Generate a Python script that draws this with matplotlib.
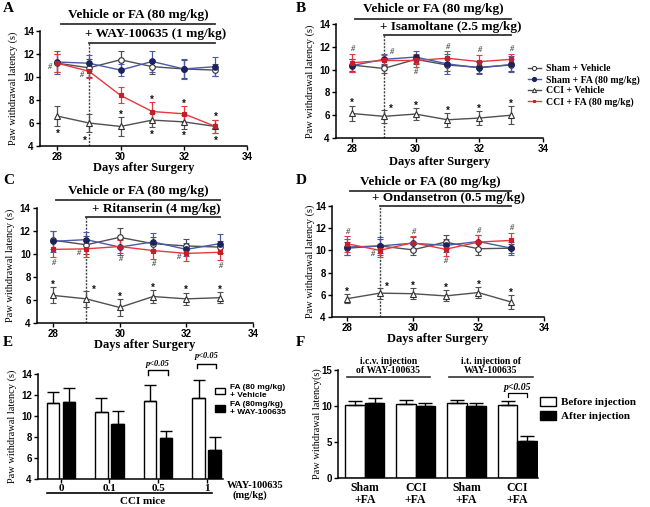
import matplotlib
matplotlib.use('Agg')
import matplotlib.pyplot as plt
from matplotlib.lines import Line2D
from matplotlib.patches import Patch
import numpy as np

SERIF = 'Liberation Serif'
SANS = 'Liberation Sans'
W, H = 650, 507

days = [28, 29, 30, 31, 32, 33]
group_names = ['Sham + Vehicle', 'Sham + FA (80 mg/kg)', 'CCI + Vehicle', 'CCI + FA (80 mg/kg)']

# A: + WAY-100635 (1 mg/kg)
a_vals = [[11.2, 10.8, 11.5, 10.9, 10.7, 10.6],
          [11.3, 11.2, 10.6, 11.35, 10.7, 10.9],
          [6.6, 6.0, 5.7, 6.25, 6.1, 5.7],
          [11.2, 10.5, 8.4, 7.0, 6.8, 5.7]]
a_errs = [[0.8, 0.8, 0.8, 0.6, 0.8, 0.5],
          [1.0, 0.7, 0.5, 0.9, 0.9, 0.8],
          [0.9, 0.8, 0.8, 0.6, 0.6, 0.6],
          [0.8, 0.6, 0.7, 0.8, 0.7, 0.6]]
# B: + Isamoltane (2.5 mg/kg)
b_vals = [[10.4, 10.1, 10.9, 10.4, 10.2, 10.4],
          [10.35, 10.9, 11.1, 10.5, 10.15, 10.45],
          [6.15, 5.9, 6.1, 5.6, 5.75, 6.0],
          [10.6, 10.8, 10.8, 11.0, 10.7, 10.9]]
b_errs = [[0.5, 0.4, 0.4, 0.5, 0.5, 0.5],
          [0.6, 0.5, 0.5, 0.9, 0.5, 0.7],
          [0.7, 0.6, 0.5, 0.6, 0.6, 0.8],
          [0.8, 0.5, 0.6, 0.6, 0.6, 0.5]]
# C: + Ritanserin (4 mg/kg)
c_vals = [[11.2, 10.8, 11.45, 10.9, 10.7, 10.6],
          [11.1, 11.25, 10.6, 11.05, 10.4, 10.9],
          [6.4, 6.1, 5.35, 6.3, 6.1, 6.2],
          [10.4, 10.45, 10.65, 10.3, 10.05, 10.15]]
c_errs = [[0.8, 0.8, 0.8, 0.6, 0.6, 0.5],
          [0.9, 0.7, 0.7, 0.8, 0.6, 0.8],
          [0.7, 0.7, 0.7, 0.55, 0.55, 0.5],
          [0.7, 0.7, 0.6, 0.7, 0.7, 0.7]]
# D: + Ondansetron (0.5 mg/kg)
d_vals = [[10.2, 10.4, 10.05, 10.75, 10.15, 10.2],
          [10.3, 10.4, 10.65, 10.45, 10.8, 10.2],
          [5.65, 6.15, 6.1, 5.9, 6.2, 5.35],
          [10.6, 10.0, 10.7, 10.1, 10.75, 10.9]]
d_errs = [[0.6, 0.6, 0.5, 0.6, 0.6, 0.4],
          [0.7, 0.8, 0.6, 0.6, 0.6, 0.6],
          [0.4, 0.5, 0.5, 0.5, 0.5, 0.6],
          [0.7, 0.6, 0.6, 0.6, 0.6, 0.7]]

# significance marks: (symbol, series, day, where)
a_notes = [('*', 2, 28, 'below'), ('*', 2, 29, 'belowleft'), ('*', 2, 30, 'above'),
           ('*', 2, 31, 'below'), ('*', 2, 32, 'below'), ('*', 2, 33, 'below'),
           ('*', 3, 31, 'above'), ('*', 3, 32, 'above'), ('*', 3, 33, 'above'),
           ('#', 3, 28, 'left'), ('#', 3, 29, 'left')]
b_notes = [('*', 2, d, 'above') for d in [28, 30, 31, 32, 33]] + [('*', 2, 29, 'aboveright')] + \
          [('#', 3, d, 'above') for d in [28, 31, 32, 33]] + [('#', 3, 29, 'aboveright'), ('#', 3, 30, 'below')]
c_notes = [('*', 2, d, 'above') for d in [28, 30, 31, 32, 33]] + [('*', 2, 29, 'aboveright')] + \
          [('#', 3, d, 'below') for d in [28, 30, 31, 33]] + [('#', 3, 29, 'left'), ('#', 3, 32, 'left')]
d_notes = [('*', 2, d, 'above') for d in [28, 30, 31, 32, 33]] + [('*', 2, 29, 'aboveright')] + \
          [('#', 3, d, 'above') for d in [28, 30, 32, 33]] + [('#', 3, 29, 'left'), ('#', 3, 31, 'below')]

# E: dose of WAY-100635 in CCI mice
e_doses = ['0', '0.1', '0.5', '1']
e_vehicle = [11.2, 10.4, 11.4, 11.7]
e_vehicle_err = [1.1, 1.35, 1.6, 1.7]
e_way = [11.35, 9.2, 7.9, 6.8]
e_way_err = [1.3, 1.25, 0.7, 1.2]

# F: i.c.v. / i.t. injection
f_groups = ['Sham\n+FA', 'CCI\n+FA', 'Sham\n+FA', 'CCI\n+FA']
f_before = [10.2, 10.25, 10.4, 10.2]
f_before_err = [0.55, 0.55, 0.5, 0.45]
f_after = [10.45, 10.0, 10.0, 5.2]
f_after_err = [0.65, 0.45, 0.4, 0.6]

styles = [dict(color='#505050', marker='o', mfc='white', mec='#303030', ms=4),
          dict(color='#4a5aa8', marker='o', mfc='#1c2260', mec='#1c2260', ms=4),
          dict(color='#505050', marker='^', mfc='white', mec='#303030', ms=4),
          dict(color='#e8383d', marker='s', mfc='#c21f2a', mec='#c21f2a', ms=3)]

fig = plt.figure(figsize=(W / 100, H / 100), dpi=100)


def add_ax(l, t, r, b):
    return fig.add_axes([l / W, 1 - b / H, (r - l) / W, (b - t) / H])


def style(ax):
    for s in ['top', 'right']:
        ax.spines[s].set_visible(False)
    for s in ['left', 'bottom']:
        ax.spines[s].set_linewidth(1.1)
    ax.tick_params(direction='out', length=3, width=1, labelsize=7, pad=1.5)
    for lab in ax.get_xticklabels() + ax.get_yticklabels():
        lab.set_fontfamily(SANS)
        lab.set_fontweight('bold')


def ylab(ax, text, box, cx):
    l, t, r, b = box
    ax.set_ylabel(text, family=SERIF, fontsize=7.5)
    ax.yaxis.set_label_coords((cx + 5 - l) / (r - l), 0.5)


def line_panel(box, xlo, vals, errs, title2, y1, y2, notes, ylab_x, xlab_off):
    l, t, r, b = box
    ax = add_ax(*box)
    for i in [2, 0, 1, 3]:
        s = styles[i]
        ax.errorbar(days, vals[i], yerr=errs[i], color=s['color'], lw=1, elinewidth=0.9,
                    capsize=2.5, capthick=0.9, marker=s['marker'], ms=s['ms'],
                    mfc=s['mfc'], mec=s['mec'], mew=0.8, clip_on=False, zorder=3)
    for sym, i, d, where in notes:
        k = days.index(d)
        v, e = vals[i][k], errs[i][k]
        x, y = d, v
        if where == 'above':
            y = v + e + 0.4
        elif where == 'below':
            y = v - e - 0.45
        elif where == 'aboveright':
            x, y = d + 0.22, v + e + 0.25
        elif where == 'belowleft':
            x, y = d - 0.12, v - e - 0.55
        elif where == 'left':
            x, y = d - 0.25, v - 0.35
        if sym == '*':
            ax.text(x, y - 0.2, '*', ha='center', va='center', fontsize=7, fontweight='bold',
                    family=SANS, color='#111111')
        else:
            ax.text(x, y, '#', ha='center', va='center', fontsize=6, style='italic',
                    fontweight='bold', family=SERIF, color='#555555')
    ax.axvline(29, ymin=0, ymax=(y2 - 4) / 10, color='#444444', lw=1, ls=(0, (1.5, 1)))
    ax.plot([28.1, 33], [y1, y1], color='#333333', lw=1.3, clip_on=False)
    ax.plot([29, 33], [y2, y2], color='#333333', lw=1.3, clip_on=False)
    ax.text(30.55, y1 + 0.3, 'Vehicle or FA (80 mg/kg)', ha='center', va='bottom',
            family=SERIF, fontweight='bold', fontsize=9.5)
    ax.text(31.1, y2 + 0.2, title2, ha='center', va='bottom',
            family=SERIF, fontweight='bold', fontsize=9.5)
    ax.set_xlim(xlo, 34)
    ax.set_ylim(4, 14)
    ax.set_xticks([28, 30, 32, 34])
    ax.set_yticks([4, 6, 8, 10, 12, 14])
    style(ax)
    ax.set_xlabel('Days after Surgery', family=SERIF, fontweight='bold', fontsize=9)
    ax.xaxis.set_label_coords(0.5, -(xlab_off - 6) / (b - t))
    ylab(ax, 'Paw withdrawal latency (s)', box, ylab_x)
    return ax


ax_a = line_panel((40, 31, 247, 146), 27.45, a_vals, a_errs, '+ WAY-100635 (1 mg/kg)',
                  14.6, 13.0, a_notes, 13, 22)
ax_b = line_panel((336, 24, 543, 138), 27.5, b_vals, b_errs, '+ Isamoltane (2.5 mg/kg)',
                  14.45, 13.0, b_notes, 310, 24)
ax_c = line_panel((37, 208, 253, 323), 27.52, c_vals, c_errs, '+ Ritanserin (4 mg/kg)',
                  14.7, 13.2, c_notes, 10, 22)
ax_d = line_panel((332, 206, 544, 317), 27.54, d_vals, d_errs, '+ Ondansetron (0.5 mg/kg)',
                  15.35, 14.0, d_notes, 310, 22)

handles = [Line2D([], [], color=s['color'], lw=1, marker=s['marker'], ms=s['ms'] - 1,
                  mfc=s['mfc'], mec=s['mec'], mew=0.7) for s in styles]
ax_b.legend(handles, group_names, loc='upper left', bbox_to_anchor=(528 / W, 1 - 64 / H),
            bbox_transform=fig.transFigure, frameon=False, borderpad=0, borderaxespad=0,
            handlelength=1.3, handletextpad=0.5, labelspacing=0.2,
            prop=dict(family=SERIF, weight='bold', size=7))

# panel E
box_e = (38, 374, 223, 479)
ax_e = add_ax(*box_e)
xe = np.arange(len(e_doses))
bw = 0.25
ax_e.bar(xe - 0.165, e_vehicle, bw, color='white', edgecolor='black', lw=1)
ax_e.bar(xe + 0.165, e_way, bw, color='black', edgecolor='black', lw=1)
ax_e.errorbar(xe - 0.165, e_vehicle, yerr=[np.zeros(4), e_vehicle_err], fmt='none',
              ecolor='black', elinewidth=1, capsize=4, capthick=1)
ax_e.errorbar(xe + 0.165, e_way, yerr=[np.zeros(4), e_way_err], fmt='none',
              ecolor='black', elinewidth=1, capsize=4, capthick=1)
ax_e.set_xlim(-0.474, 3.34)
ax_e.set_ylim(4, 14)
ax_e.set_yticks([4, 6, 8, 10, 12, 14])
ax_e.set_xticks(xe)
style(ax_e)
ax_e.tick_params(axis='x', pad=0.5)
ax_e.set_xticklabels(e_doses, family=SERIF, fontweight='bold', fontsize=8)
ylab(ax_e, 'Paw withdrawal latency (s)', box_e, 12)
for k, (yb, ytxt) in zip([2, 3], [(14.37, 15.0), (15.0, 15.75)]):
    ax_e.plot([k - 0.2, k - 0.2, k + 0.2, k + 0.2], [yb - 0.45, yb, yb, yb - 0.45],
              color='black', lw=1, clip_on=False)
    ax_e.text(k, ytxt, 'p<0.05', ha='center', va='center', family=SERIF, style='italic',
              fontweight='bold', fontsize=6)
tr = ax_e.get_xaxis_transform()
ax_e.plot([-0.29, 3.11], [-0.135, -0.135], color='black', lw=1.2, transform=tr, clip_on=False)
ax_e.text(1.69, -0.17, 'CCI mice', ha='center', va='top', family=SERIF, fontweight='bold',
          fontsize=8, transform=tr)
ax_e.text(3.42, -0.06, 'WAY-100635', ha='left', va='center', family=SERIF, fontweight='bold',
          fontsize=7.5, transform=tr)
ax_e.text(3.9, -0.155, '(mg/kg)', ha='center', va='center', family=SERIF, fontweight='bold',
          fontsize=7.5, transform=tr)
ax_e.legend([Patch(facecolor='white', edgecolor='black'), Patch(facecolor='black', edgecolor='black')],
            ['FA (80 mg/kg)\n+ Vehicle', 'FA (80mg/kg)\n+ WAY-100635'],
            loc='upper left', bbox_to_anchor=(215 / W, 1 - 384 / H), bbox_transform=fig.transFigure,
            frameon=False, borderpad=0, borderaxespad=0, handlelength=1.2, handleheight=0.8,
            handletextpad=0.6, labelspacing=0.3, prop=dict(family=SANS, weight='bold', size=6))

# panel F
box_f = (338, 370, 538, 478)
ax_f = add_ax(*box_f)
xf = np.arange(len(f_groups))
fw = 0.385
ax_f.bar(xf - 0.19, f_before, fw, color='white', edgecolor='black', lw=1)
ax_f.bar(xf + 0.19, f_after, fw, color='black', edgecolor='black', lw=1)
ax_f.errorbar(xf - 0.19, f_before, yerr=[np.zeros(4), f_before_err], fmt='none',
              ecolor='black', elinewidth=1, capsize=5, capthick=1)
ax_f.errorbar(xf + 0.19, f_after, yerr=[np.zeros(4), f_after_err], fmt='none',
              ecolor='black', elinewidth=1, capsize=5, capthick=1)
ax_f.set_xlim(-0.53, 3.41)
ax_f.set_ylim(0, 15)
ax_f.set_yticks([0, 5, 10, 15])
ax_f.set_xticks(xf)
style(ax_f)
ax_f.tick_params(axis='x', length=0, pad=3)
ax_f.set_xticklabels(f_groups, family=SERIF, fontweight='bold', fontsize=8.5, linespacing=0.95)
ylab(ax_f, 'Paw withdrawal latency(s)', box_f, 317)
for (x0, x1), txt in zip([(-0.355, 1.28), (1.66, 3.31)],
                         ['i.c.v. injection\nof WAY-100635', 'i.t. injection of\nWAY-100635']):
    ax_f.plot([x0, x1], [14.05, 14.05], color='#333333', lw=1.2, clip_on=False)
    ax_f.text((x0 + x1) / 2, 14.35, txt, ha='center', va='bottom', family=SERIF,
              fontweight='bold', fontsize=7, linespacing=1.0)
ax_f.plot([3 - 0.19, 3 - 0.19, 3 + 0.19, 3 + 0.19], [11.3, 11.8, 11.8, 11.3], color='black',
          lw=0.9)
ax_f.text(3, 12.6, 'p<0.05', ha='center', va='center', family=SERIF, style='italic',
          fontweight='bold', fontsize=7)
ax_f.legend([Patch(facecolor='white', edgecolor='black'), Patch(facecolor='black', edgecolor='black')],
            ['Before injection', 'After injection'], loc='upper left',
            bbox_to_anchor=(540 / W, 1 - 397 / H), bbox_transform=fig.transFigure, frameon=False,
            borderpad=0, borderaxespad=0, handlelength=1.4, handleheight=0.9, handletextpad=0.5,
            labelspacing=0.3, prop=dict(family=SERIF, weight='bold', size=8))

# panel letters
for letter, x, y in [('A', 3, 9), ('B', 296, 8), ('C', 3, 180), ('D', 296, 180),
                     ('E', 3, 343), ('F', 296, 343)]:
    fig.text(x / W, 1 - y / H, letter, ha='left', va='center', family=SERIF,
             fontweight='bold', fontsize=11)

fig.savefig('out.png', dpi=100)
